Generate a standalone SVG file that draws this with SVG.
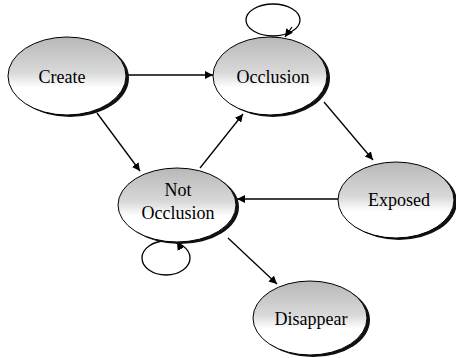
<svg xmlns="http://www.w3.org/2000/svg" width="456" height="358" viewBox="0 0 456 358">
<style>
.node{fill:url(#g);stroke:#000;stroke-width:1}
.sh{fill:#111}
.lbl{font-family:'Liberation Serif','Times New Roman',serif;font-size:18px;fill:#000;text-anchor:middle}
.edge{fill:none;stroke:#000;stroke-width:1.3;marker-end:url(#ah)}
.loop{fill:none;stroke:#000;stroke-width:1.3}
</style>
<defs>
<linearGradient id="g" x1="0" y1="0" x2="0" y2="1">
<stop offset="0" stop-color="#b8b8b8"/>
<stop offset="0.45" stop-color="#d8d8d8"/>
<stop offset="0.65" stop-color="#fff"/>
<stop offset="1" stop-color="#fff"/>
</linearGradient>
<marker id="ah" viewBox="0 0 10 10" refX="10" refY="5" markerWidth="8" markerHeight="8" markerUnits="userSpaceOnUse" orient="auto">
<path d="M0,0 L10,5 L0,10 z" fill="#000"/>
</marker>
</defs>
<rect width="456" height="358" fill="#fff"/>
<g id="connectors">
<path class="edge" d="M127,75 L213,75"/>
<path class="edge" d="M97,113 L140,171"/>
<path class="edge" d="M200,168 L243,114"/>
<path class="edge" d="M324,102 L373,160"/>
<path class="edge" d="M338,199 L237,199"/>
<path class="edge" d="M228,238 L277,284"/>
<ellipse class="loop" cx="273" cy="20" rx="27" ry="16"/>
<path class="edge" d="M292,27 L285,37"/>
<ellipse class="loop" cx="166" cy="258" rx="24" ry="17"/>
<path class="edge" d="M180,247 L177,242"/>
</g>
<g id="create">
<ellipse class="sh" cx="70" cy="78" rx="59" ry="39"/>
<ellipse class="node" cx="67" cy="76" rx="59" ry="39"/>
<text class="lbl" font-family="Liberation Serif, serif" x="62" y="83">Create</text>
</g>
<g id="occlusion">
<ellipse class="sh" cx="273" cy="78" rx="57" ry="39"/>
<ellipse class="node" cx="270" cy="76" rx="57" ry="39"/>
<text class="lbl" font-family="Liberation Serif, serif" x="273" y="83">Occlusion</text>
</g>
<g id="not-occlusion">
<ellipse class="sh" cx="180" cy="207" rx="59" ry="37"/>
<ellipse class="node" cx="177" cy="205" rx="59" ry="37"/>
<text class="lbl" font-family="Liberation Serif, serif" x="178" y="196">Not</text>
<text class="lbl" font-family="Liberation Serif, serif" x="178" y="219">Occlusion</text>
</g>
<g id="exposed">
<ellipse class="sh" cx="399" cy="202" rx="58" ry="38"/>
<ellipse class="node" cx="396" cy="200" rx="58" ry="38"/>
<text class="lbl" font-family="Liberation Serif, serif" x="399" y="206">Exposed</text>
</g>
<g id="disappear">
<ellipse class="sh" cx="313" cy="320" rx="57" ry="37"/>
<ellipse class="node" cx="310" cy="318" rx="57" ry="37"/>
<text class="lbl" font-family="Liberation Serif, serif" x="311" y="325">Disappear</text>
</g>
</svg>
